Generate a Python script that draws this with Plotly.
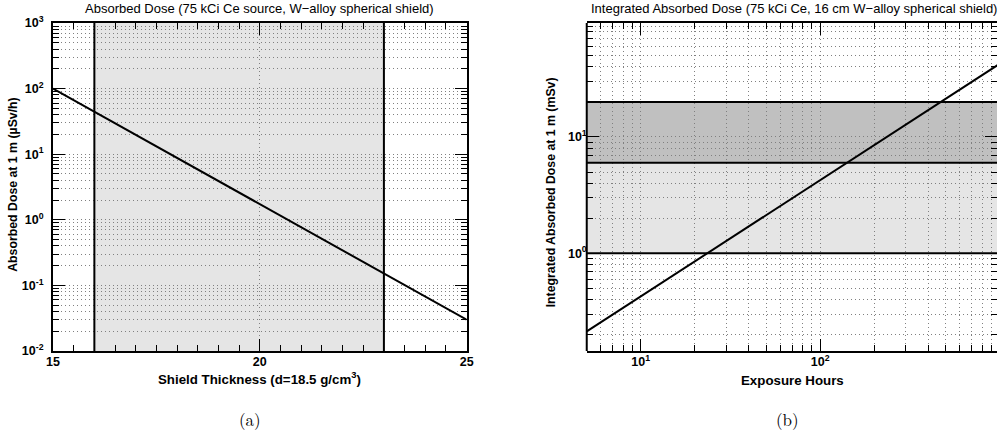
import numpy as np
import plotly.graph_objects as go

# ---------------- data ----------------
thickness_cm = [15, 25]                 # shield thickness
dose_rate_uSv_h = [100, 0.03]           # absorbed dose at 1 m (uSv/h)
shield_band = [16, 23]                  # shaded thickness band

hours = [5, 1000]                       # exposure hours
integrated_mSv = [0.213, 42.5]          # integrated dose at 1 m (mSv)
dose_limits = [1, 6, 20]                # horizontal band limits (mSv)

left_yticks = [0.01, 0.1, 1, 10, 100, 1000]
left_ytext = ["10<sup>-2</sup>", "10<sup>-1</sup>", "10<sup>0</sup>",
              "10<sup>1</sup>", "10<sup>2</sup>", "10<sup>3</sup>"]
left_xticks = [15, 20, 25]
left_xtext = ["15", "20", "25"]
right_xticks = [10, 100, 1000]
right_xtext = ["10<sup>1</sup>", "10<sup>2</sup>", "10<sup>3</sup>"]
right_yticks = [1, 10]
right_ytext = ["10<sup>0</sup>", "10<sup>1</sup>"]

# ---------------- layout helpers ----------------
W, H = 1004, 434
ML, MR, MT, MB = 53, 0, 23, 83
PW, PH = W - ML - MR, H - MT - MB


def px(x):
    return (x - ML) / PW


def py(y):
    return (H - MB - y) / PH


def minor_log(lo_exp, hi_exp):
    return [m * 10.0 ** e for e in range(lo_exp, hi_exp + 1) for m in range(2, 10)]


FONT = "Liberation Sans, Arial, Helvetica, sans-serif"
GRID = "#808080"
GDASH = "1px,3px"
tickfont = dict(family=FONT, size=12.5, color="black", weight="bold")

fig = go.Figure()

fig.add_trace(go.Scatter(x=thickness_cm, y=dose_rate_uSv_h, mode="lines",
                         line=dict(color="black", width=2), xaxis="x", yaxis="y",
                         showlegend=False, hoverinfo="skip"))
fig.add_trace(go.Scatter(x=hours, y=integrated_mSv, mode="lines",
                         line=dict(color="black", width=2), xaxis="x2", yaxis="y2",
                         showlegend=False, hoverinfo="skip"))

common = dict(showline=True, linecolor="black", linewidth=2, mirror="ticks",
              ticks="inside", tickcolor="black", tickwidth=1, ticklen=12,
              showgrid=True, gridcolor=GRID, griddash=GDASH, gridwidth=1,
              zeroline=False, tickfont=tickfont, tickmode="array")

minor_common = dict(ticks="inside", ticklen=6, tickcolor="black", tickwidth=1,
                    showgrid=True, gridcolor=GRID, griddash=GDASH, gridwidth=1)

fig.update_layout(
    width=W, height=H,
    margin=dict(l=ML, r=MR, t=MT, b=MB, pad=0),
    paper_bgcolor="white", plot_bgcolor="white",
    showlegend=False,
    xaxis=dict(common, domain=[0, px(469.7)], range=[15, 25],
               tickvals=left_xticks, ticktext=left_xtext, ticklabelstandoff=-2,
               minor=dict(dtick=0.5, ticks="inside", ticklen=6, tickcolor="black",
                          tickwidth=1, showgrid=False)),
    yaxis=dict(common, type="log", range=[-2, 3], anchor="x",
               tickvals=left_yticks, ticktext=left_ytext, ticklabelstandoff=5,
               minor=dict(minor_common, tickmode="array", tickvals=minor_log(-2, 2))),
    xaxis2=dict(common, type="log", domain=[px(590.7), 1],
                range=[np.log10(5), 2.986], anchor="y2",
                tickvals=right_xticks, ticktext=right_xtext, ticklabelstandoff=-2,
                minor=dict(minor_common, tickmode="array", tickvals=minor_log(0, 2))),
    yaxis2=dict(common, type="log", range=[-0.84, 1.98], anchor="x2",
                showline=False,
                tickvals=right_yticks, ticktext=right_ytext, ticklabelstandoff=-1,
                minor=dict(minor_common, tickmode="array", tickvals=minor_log(-1, 1))),
)

shapes = []
# left shaded band
shapes.append(dict(type="rect", xref="x", yref="y domain", x0=shield_band[0], x1=shield_band[1],
                   y0=0, y1=1, fillcolor="#e5e5e5", line=dict(width=0), layer="below"))
for xv in shield_band:
    shapes.append(dict(type="line", xref="x", yref="y domain", x0=xv, x1=xv, y0=0, y1=1,
                       line=dict(color="black", width=2), layer="above"))
# right shaded bands (data values on the log axis)
shapes.append(dict(type="rect", xref="x2 domain", yref="y2", x0=0, x1=1,
                   y0=dose_limits[0], y1=dose_limits[1],
                   fillcolor="#e5e5e5", line=dict(width=0), layer="below"))
shapes.append(dict(type="rect", xref="x2 domain", yref="y2", x0=0, x1=1,
                   y0=dose_limits[1], y1=dose_limits[2],
                   fillcolor="#c0c0c0", line=dict(width=0), layer="below"))
for v in dose_limits:
    shapes.append(dict(type="line", xref="x2 domain", yref="y2", x0=0, x1=1, y0=v, y1=v,
                       line=dict(color="black", width=2), layer="above"))
# left frame line of right panel
shapes.append(dict(type="line", xref="x2 domain", yref="y2 domain", x0=0, x1=0, y0=0, y1=1,
                   line=dict(color="black", width=2), layer="above"))
fig.update_layout(shapes=shapes)

ann = []


def add_text(text, x, y, size, bold=False, family=FONT, angle=0):
    ann.append(dict(text=text, x=px(x), y=py(y), xref="paper", yref="paper",
                    xanchor="center", yanchor="middle", showarrow=False, textangle=angle,
                    font=dict(family=family, size=size, color="black",
                              weight="bold" if bold else "normal")))


add_text("Absorbed Dose (75 kCi Ce source, W\u2212alloy spherical shield)", 261.5, 8.5, 13)
add_text("Integrated Absorbed Dose (75 kCi Ce, 16 cm W\u2212alloy spherical shield)", 799, 8.5, 13)
add_text("Shield Thickness (d=18.5 g/cm<sup>3</sup>)", 261, 378, 13.3, bold=True)
add_text("Exposure Hours", 798, 380, 13.3, bold=True)
add_text("Absorbed Dose at 1 m (\u00b5Sv/h)", 12.5, 184, 12.3, bold=True, angle=-90)
add_text("Integrated Absorbed Dose at 1 m (mSv)", 555, 192, 12.3, bold=True, angle=-90)
add_text("(a)", 251, 419, 17, family="Latin Modern Roman, DejaVu Serif, Liberation Serif, serif")
add_text("(b)", 793, 419, 17, family="Latin Modern Roman, DejaVu Serif, Liberation Serif, serif")
fig.update_layout(annotations=ann)

fig.write_html("out.html", config={"displayModeBar": False},
               post_script="document.body.style.margin='0';document.body.style.overflow='hidden';")
